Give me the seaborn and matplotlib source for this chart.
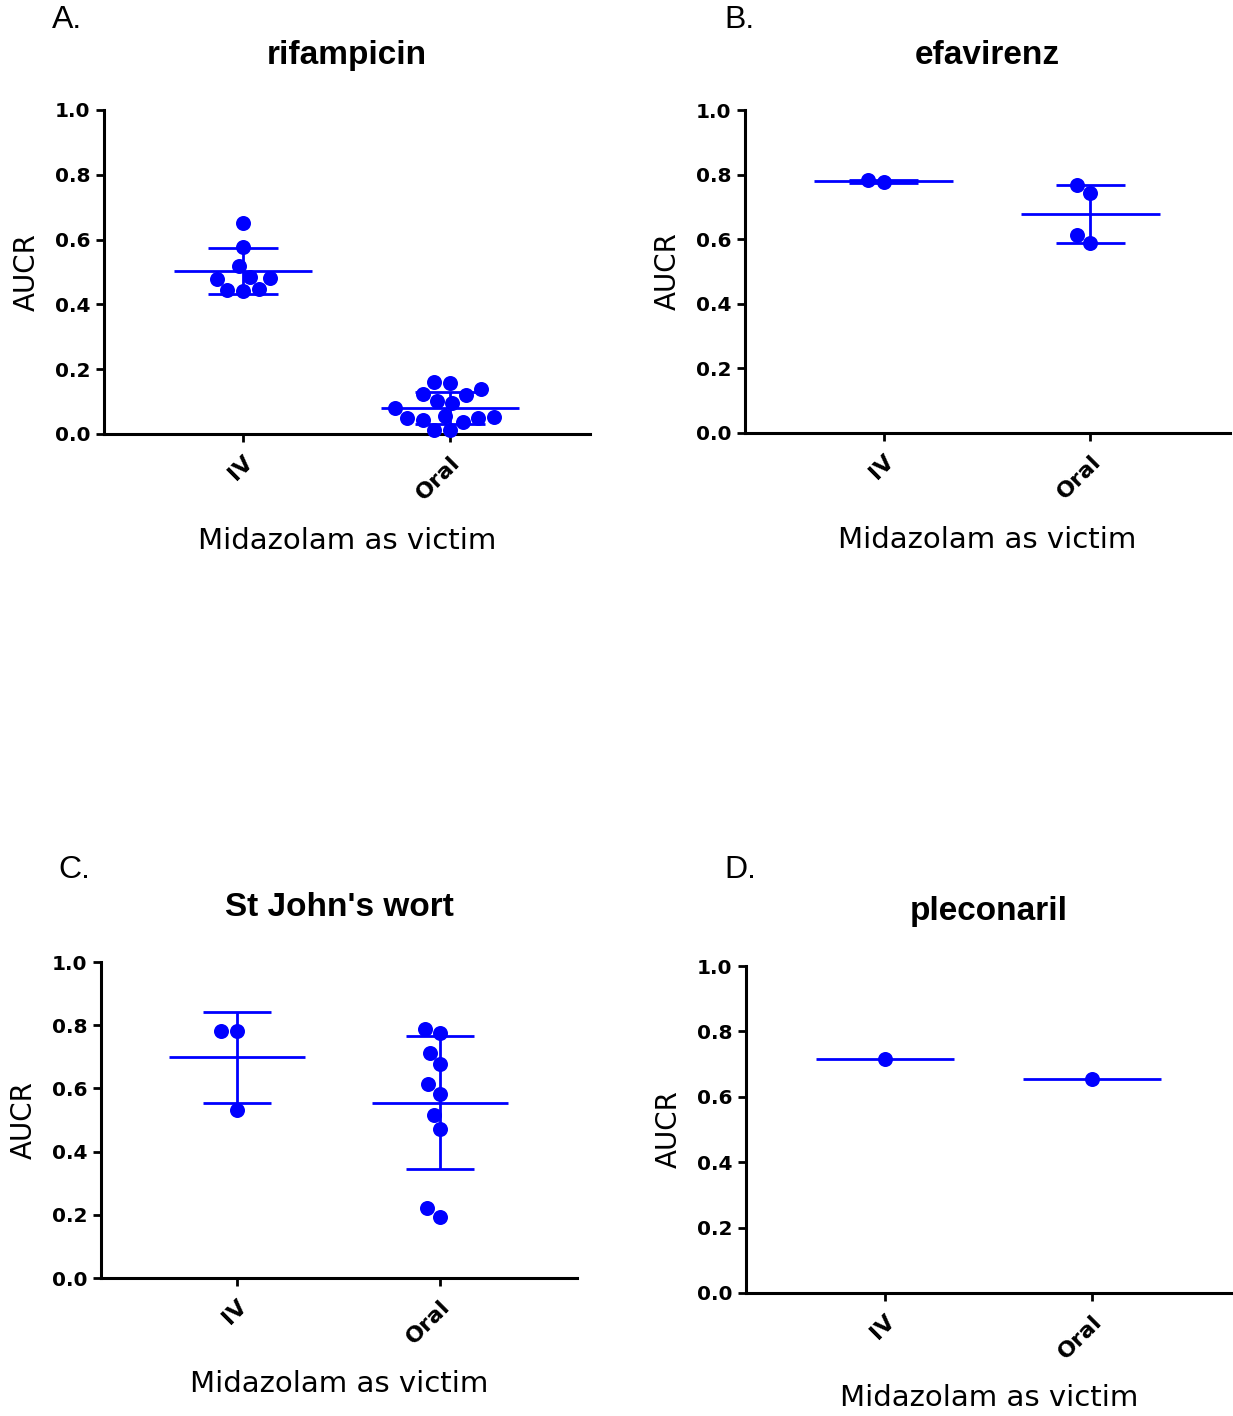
import numpy as np
import pandas as pd
import matplotlib
matplotlib.use("Agg")
import matplotlib.pyplot as plt
import seaborn as sns

# ---- data (AUCR values) ----
groups = ["IV", "Oral"]
drugs = ["rifampicin", "efavirenz", "St John's wort", "pleconaril"]
panel_letters = ["A.", "B.", "C.", "D."]

rif_iv = [0.652, 0.578, 0.518, 0.480, 0.478, 0.484, 0.447, 0.442, 0.444]
rif_oral = [0.138, 0.120, 0.158, 0.161, 0.122, 0.102, 0.097, 0.079, 0.051,
            0.048, 0.038, 0.043, 0.048, 0.056, 0.012, 0.012]
efa_iv = [0.776, 0.783]
efa_oral = [0.768, 0.744, 0.613, 0.587]
sjw_iv = [0.782, 0.782, 0.532]
sjw_oral = [0.776, 0.787, 0.713, 0.676, 0.614, 0.582, 0.516, 0.472, 0.222, 0.194]
ple_iv = [0.716]
ple_oral = [0.653]

yticks = [0.0, 0.2, 0.4, 0.6, 0.8, 1.0]
ytick_labels = ["0.0", "0.2", "0.4", "0.6", "0.8", "1.0"]
xlabel = "Midazolam as victim"
ylabel = "AUCR"

panel_data = [(rif_iv, rif_oral), (efa_iv, efa_oral), (sjw_iv, sjw_oral), (ple_iv, ple_oral)]

# ---- style ----
sns.set_theme(style="ticks")
plt.rcParams["font.family"] = ["DejaVu Sans"]
for key in ["text.color", "axes.labelcolor", "xtick.color", "ytick.color", "axes.edgecolor"]:
    plt.rcParams[key] = "black"
BLUE = "#0000FF"

W, H = 1233, 1416
fig = plt.figure(figsize=(W / 100, H / 100), dpi=100)

# axes boxes in pixels: left, right, top, bottom
boxes = [(104, 590, 110, 434), (745, 1230, 110, 433),
         (101, 577, 962, 1278), (746, 1232, 966, 1293)]
xlabel_y = [541, 540, 1384, 1398]
letter_pos = [(52, 20), (724, 20), (58, 870), (724, 870)]

for i, ((l, r, t, b), (iv, oral)) in enumerate(zip(boxes, panel_data)):
    ax = fig.add_axes([l / W, 1 - b / H, (r - l) / W, (b - t) / H])
    df = pd.DataFrame({"route": ["IV"] * len(iv) + ["Oral"] * len(oral),
                       "AUCR": iv + oral})
    sns.swarmplot(data=df, x="route", y="AUCR", order=groups, color=BLUE,
                  size=10.8, ax=ax, zorder=4, clip_on=False, linewidth=0)
    for k, g in enumerate(groups):
        vals = np.array(df.loc[df["route"] == g, "AUCR"])
        m = vals.mean()
        ax.hlines(m, k - 0.335, k + 0.335, color=BLUE, lw=2.0, zorder=3)
        if len(vals) > 1:
            sd = vals.std(ddof=1)
            ax.vlines(k, m - sd, m + sd, color=BLUE, lw=2.0, zorder=3)
            ax.hlines([m - sd, m + sd], k - 0.167, k + 0.167, color=BLUE, lw=2.0, zorder=3)

    ax.set_xlim(-0.671, 1.676)
    ax.set_ylim(0, 1.0)
    ax.set_yticks(yticks)
    ax.set_yticklabels(ytick_labels, fontsize=14.5, fontweight="bold")
    ax.set_xticks([0, 1])
    ax.set_xticklabels(groups, fontsize=16, fontweight="bold", rotation=45,
                       ha="right", rotation_mode="anchor")
    sns.despine(ax=ax)
    for s in ["left", "bottom"]:
        ax.spines[s].set_linewidth(2.2)
        ax.spines[s].set_color("black")
    ax.tick_params(axis="both", length=6, width=2.0, color="black", direction="out")
    ax.tick_params(axis="y", pad=4)
    ax.tick_params(axis="x", pad=7)

    ax.set_title(drugs[i], fontsize=24, fontweight="bold", family="Liberation Sans",
                 pad=33)
    ax.set_xlabel(xlabel, fontsize=21, va="center")
    ax.xaxis.set_label_coords(0.5, -(xlabel_y[i] - b) / (b - t))
    ax.set_ylabel(ylabel, fontsize=20, va="center")
    ax.yaxis.set_label_coords(-77 / (r - l), 0.5)

    lx, ly = letter_pos[i]
    fig.text(lx / W, 1 - ly / H, panel_letters[i], fontsize=23,
             family="Liberation Sans", va="center", ha="left")

fig.savefig("out.png", dpi=100)
